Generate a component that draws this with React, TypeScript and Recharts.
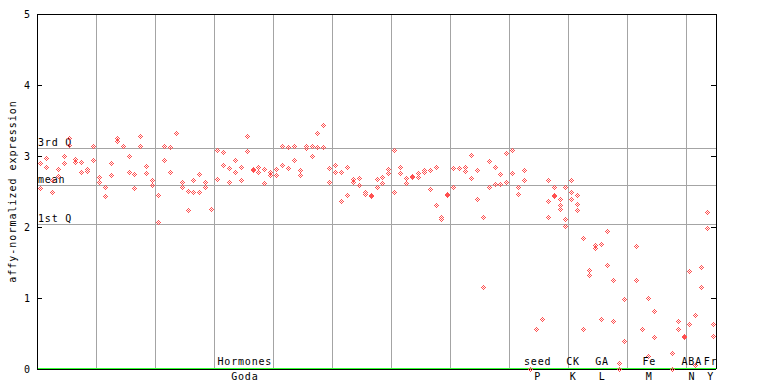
import { ScatterChart, Scatter, XAxis, YAxis, CartesianGrid, ReferenceLine } from "recharts"

// two replicate values per sample, null where nothing is drawn
const repA: (number | null)[] = [
    2.90, 2.97, 2.66, 2.81, 3.00, 3.25, 2.96, 2.91, 2.82, 3.14,
    2.71, 2.56, 2.90, 3.26, 3.14, 3.00, 2.74, 3.28, 2.86, 2.66,
    2.45, 3.14, 3.12, 3.33, 2.64, 2.51, 2.66, 2.74, 2.64, 2.25,
    3.09, 3.05, 2.83, 2.95, 2.85, 3.28, 2.81, 2.85, 2.81, 2.78,
    2.81, 3.14, 3.12, 3.14, 2.80, 3.14, 3.14, 3.33, 3.43, 2.83,
    2.88, 2.77, 2.84, 2.67, 2.69, 2.49, 2.45, 2.67, 2.70, 2.81,
    3.09, 2.84, 2.69, 2.72, 2.76, 2.80, 2.80, 2.85, 2.14, 2.47,
    2.83, 2.83, 2.84, 3.02, 2.80, 2.14, 2.93, 2.85, 2.74, 3.04,
    3.09, 2.57, 2.80, 0.00, 0.57, 0.70, 2.66, 2.57, 2.39, 2.56,
    2.66, 2.45, 1.84, 1.40, 1.74, 1.76, 1.94, 1.26, 0.08, 0.98,
    null, 1.73, 0.57, 1.00, 0.81, null, null, 0.22, 0.67, 0.47,
    1.38, 0.76, 1.43, 2.21, 0.64,
]
const repB: (number | null)[] = [
    2.55, 2.84, 2.49, 2.72, 2.90, 3.15, 2.92, 2.77, 2.79, 2.94,
    2.64, 2.43, 2.73, 3.21, null, 2.78, 2.55, 3.14, 2.76, 2.59,
    2.07, 2.95, 2.77, 3.32, 2.57, 2.24, 2.49, 2.50, 2.56, 2.26,
    2.67, 2.87, 2.64, 2.78, 2.66, 3.07, 2.80, 2.78, 2.62, 2.73,
    2.73, 2.88, 2.83, 2.95, 2.73, 3.11, 3.00, 3.12, 3.12, 2.64,
    2.77, 2.36, 2.45, 2.64, 2.59, 2.47, 2.43, 2.57, 2.62, 2.76,
    2.49, 2.76, 2.62, 2.70, 2.70, 2.77, 2.53, 2.31, 2.11, 2.45,
    2.57, null, 2.79, 2.69, 2.39, 1.16, 2.57, 2.60, 2.60, 2.63,
    2.76, 2.46, 2.66, null, null, null, 2.36, 2.45, 2.31, 2.11,
    2.50, 2.33, 0.57, 1.32, 1.71, 0.70, 1.47, 0.67, 0.00, 0.39,
    null, 1.25, null, 0.18, 0.45, null, null, 0.00, 0.56, 0.45,
    0.63, 0.05, 1.16, 1.98, 0.47,
]
// third replicate exists only for a few samples
const extraIdx = [86, 87, 88, 89, 90, 91]
const extraVals = [2.14, 2.44, 2.25, 2.02, 2.40, 2.24]

const statNames = ["3rd Q", "mean", "1st Q"]
const statValues = [3.11, 2.59, 2.04]

const groupTop = ["Hormones", "seed", "CK", "GA", "Fe", "ABA", "Fr"]
const groupBottom = ["Goda", "P", "K", "L", "M", "N", "Y"]
const groupCenters = [35.2, 84.8, 90.8, 95.7, 103.7, 110.9, 114.1]

const yTicks = [0, 1, 2, 3, 4, 5]
const gridTicks = [10, 20, 30, 40, 50, 60, 70, 80, 90, 100, 110]
const sampleCount = 115

const RED = "#ff5050"
const GRID = "#a4a4a4"
const FONT = "'DejaVu Sans Mono', monospace"

const points: { x: number; y: number }[] = []
repA.forEach((v, i) => { if (v != null) points.push({ x: i + 0.5, y: v }) })
repB.forEach((v, i) => { if (v != null) points.push({ x: i + 0.5, y: v }) })
extraIdx.forEach((i, k) => points.push({ x: i + 0.5, y: extraVals[k] }))

const DOTS = [[0, -2], [-1, -1], [1, -1], [-2, 0], [0, 0], [2, 0], [-1, 1], [1, 1], [0, 2]]

function Diamond(props: any) {
    const { cx, cy } = props
    if (cx == null || cy == null) return <g />
    const x0 = Math.round(cx)
    const y0 = Math.round(cy)
    return (
        <g>
            {DOTS.map(([dx, dy], k) => (
                <rect key={k} x={x0 + dx} y={y0 + dy} width={1} height={1} fill={RED} />
            ))}
        </g>
    )
}

function LeftTick(props: any) {
    const { x, y, payload } = props
    return (
        <g>
            <text x={x} y={y} textAnchor="end" dominantBaseline="central"
                  fontFamily={FONT} fontSize={10} fill="#000">{payload.value}</text>
            <line x1={x + 7} x2={x + 12} y1={y} y2={y} stroke="#000" />
        </g>
    )
}

function RightTick(props: any) {
    const { x, y } = props
    return <line x1={x - 5} x2={x} y1={y} y2={y} stroke="#000" />
}

function EmptyTick() {
    return <g />
}

function GroupTick(props: any) {
    const { x, y, index } = props
    return (
        <g fontFamily={FONT} fontSize={10} fill="#000" letterSpacing={0.8}>
            <text x={x} y={y - 4} textAnchor="middle">{groupTop[index]}</text>
            <text x={x} y={y + 11} textAnchor="middle">{groupBottom[index]}</text>
        </g>
    )
}

function StatLabel(props: any) {
    const { viewBox, value } = props
    return (
        <text x={viewBox.x + 1} y={viewBox.y - 2} fontFamily={FONT} fontSize={10}
              fill="#000" letterSpacing={0.8}>{value}</text>
    )
}

function AxisTitle(props: any) {
    const { viewBox } = props
    const cy = viewBox.y + viewBox.height / 2
    return (
        <text transform={`translate(12, ${cy}) rotate(-90)`} textAnchor="middle"
              dominantBaseline="central" fontFamily={FONT} fontSize={10}
              letterSpacing={1} fill="#000">affy-normalized expression</text>
    )
}

export default function App() {
    return (
        <div style={{ position: "absolute", left: 0, top: 0, background: "#fff" }}>
            <ScatterChart
                width={768}
                height={384}
                margin={{ top: 13, right: 51, bottom: 0, left: 0 }}
                style={{ shapeRendering: "crispEdges" }}
            >
                <CartesianGrid xAxisId="t" yAxisId="r" horizontal={false} stroke={GRID} />

                <XAxis
                    xAxisId="b"
                    type="number"
                    dataKey="x"
                    domain={[0, sampleCount]}
                    ticks={groupCenters}
                    interval={0}
                    height={15}
                    tickSize={0}
                    tickMargin={0}
                    tickLine={false}
                    axisLine={{ stroke: "#000" }}
                    tick={<GroupTick />}
                />
                <XAxis
                    xAxisId="t"
                    orientation="top"
                    type="number"
                    dataKey="x"
                    domain={[0, sampleCount]}
                    ticks={gridTicks}
                    interval={0}
                    height={1}
                    tickSize={0}
                    tickLine={false}
                    axisLine={{ stroke: "#000" }}
                    tick={<EmptyTick />}
                />
                <YAxis
                    yAxisId="l"
                    type="number"
                    dataKey="y"
                    domain={[0, 5]}
                    ticks={yTicks}
                    interval={0}
                    width={37}
                    tickSize={0}
                    tickMargin={7}
                    tickLine={false}
                    axisLine={{ stroke: "#000" }}
                    tick={<LeftTick />}
                    label={<AxisTitle />}
                />
                <YAxis
                    yAxisId="r"
                    orientation="right"
                    type="number"
                    dataKey="y"
                    domain={[0, 5]}
                    ticks={[1, 2, 3, 4]}
                    interval={0}
                    width={1}
                    tickSize={0}
                    tickMargin={0}
                    tickLine={false}
                    axisLine={{ stroke: "#000" }}
                    tick={<RightTick />}
                />

                {statValues.map((v, k) => (
                    <ReferenceLine
                        key={statNames[k]}
                        xAxisId="b"
                        yAxisId="l"
                        y={v}
                        stroke={GRID}
                        label={<StatLabel value={statNames[k]} />}
                    />
                ))}

                <ReferenceLine xAxisId="b" yAxisId="l" y={0.014} stroke="#33ff33" />

                <Scatter
                    xAxisId="b"
                    yAxisId="l"
                    data={points}
                    dataKey="y"
                    shape={<Diamond />}
                    isAnimationActive={false}
                />
                <Scatter
                    xAxisId="t"
                    yAxisId="r"
                    data={points}
                    dataKey="y"
                    shape={<EmptyTick />}
                    isAnimationActive={false}
                />
            </ScatterChart>
        </div>
    )
}
